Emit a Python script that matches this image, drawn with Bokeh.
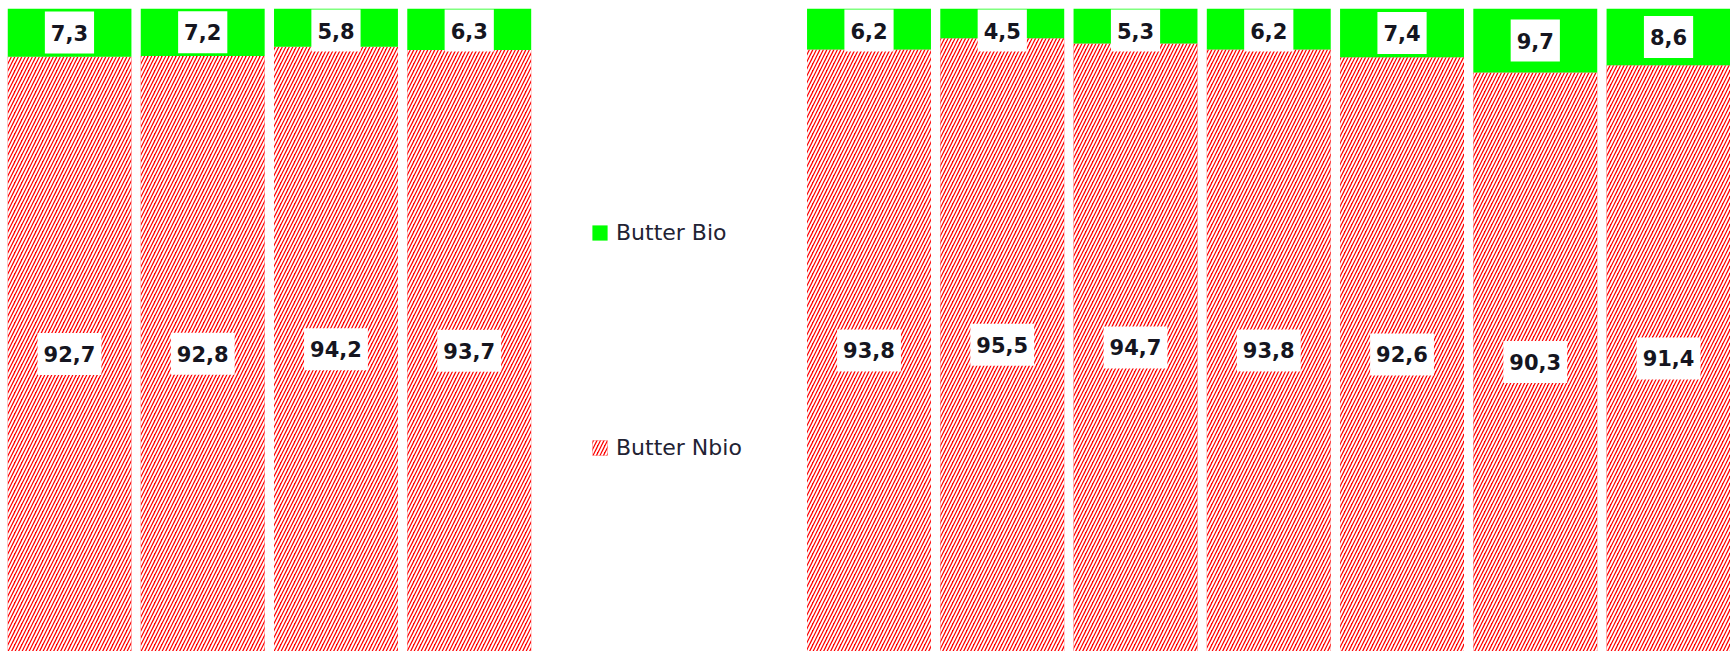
from bokeh.plotting import figure
from bokeh.models import ColumnDataSource, Range1d, Legend, LegendItem
from bokeh.core.properties import value
from bokeh.embed import file_html
from bokeh.resources import INLINE

# --- data -------------------------------------------------------------
# category slots (two empty slots in the middle hold the legend)
slots = [0, 1, 2, 3, 6, 7, 8, 9, 10, 11, 12]
bio = [7.3, 7.2, 5.8, 6.3, 6.2, 4.5, 5.3, 6.2, 7.4, 9.7, 8.6]
nbio = [92.7, 92.8, 94.2, 93.7, 93.8, 95.5, 94.7, 93.8, 92.6, 90.3, 91.4]
series_names = ["Butter Bio", "Butter Nbio"]

Y0 = 2.6  # visible axis start (chart is cut at the bottom)
BOX_HALF = 3.35  # label box half-height in axis units

total = [a + b for a, b in zip(nbio, bio)]
fmt = lambda v: f"{v:.1f}".replace(".", ",")
src = ColumnDataSource(dict(
    x=slots,
    bio=bio,
    nbio=nbio,
    total=total,
    bio_txt=[fmt(v) for v in bio],
    nbio_txt=[fmt(v) for v in nbio],
    bio_ly=[min(n + b / 2, 100 - BOX_HALF) for n, b in zip(nbio, bio)],
    nbio_ly=[(Y0 + n) / 2 for n in nbio],
))

p = figure(width=1730, height=651,
           x_range=Range1d(-0.465, 12.465), y_range=Range1d(Y0, 100),
           output_backend="svg", toolbar_location=None,
           min_border_left=7, min_border_top=8, min_border_right=0,
           min_border_bottom=0)
p.axis.visible = False
p.grid.visible = False
p.outline_line_color = None
p.background_fill_color = "white"

r_nbio = p.vbar(x="x", width=0.93, bottom=0, top="nbio", source=src,
                fill_color="#ff0000", hatch_pattern="/", hatch_color="white",
                hatch_scale=7, hatch_weight=1.9, line_color=None)
r_bio = p.vbar(x="x", width=0.93, bottom="nbio", top="total", source=src,
               fill_color="#00ff00", line_color=None)

common = dict(source=src, text_align="center", text_baseline="middle",
              text_font=value("DejaVu Sans"), text_font_size=value("21px"),
              text_font_style="bold", text_color="#151520",
              background_fill_color="white",
              padding=dict(left=6, right=6, top=13, bottom=13))
p.text(x="x", y="nbio_ly", text="nbio_txt", **common)
p.text(x="x", y="bio_ly", text="bio_txt", **common)

legend = Legend(items=[LegendItem(label=series_names[0], renderers=[r_bio]),
                       LegendItem(label=series_names[1], renderers=[r_nbio])],
                location=(583, 191), orientation="vertical", spacing=189,
                padding=0, margin=0, border_line_color=None,
                background_fill_alpha=0, glyph_width=19, glyph_height=19,
                label_height=26, label_standoff=7,
                label_text_font="DejaVu Sans", label_text_font_size="22px",
                label_text_color="#222233")
p.add_layout(legend)

open("out.html", "w").write(file_html(p, INLINE))
